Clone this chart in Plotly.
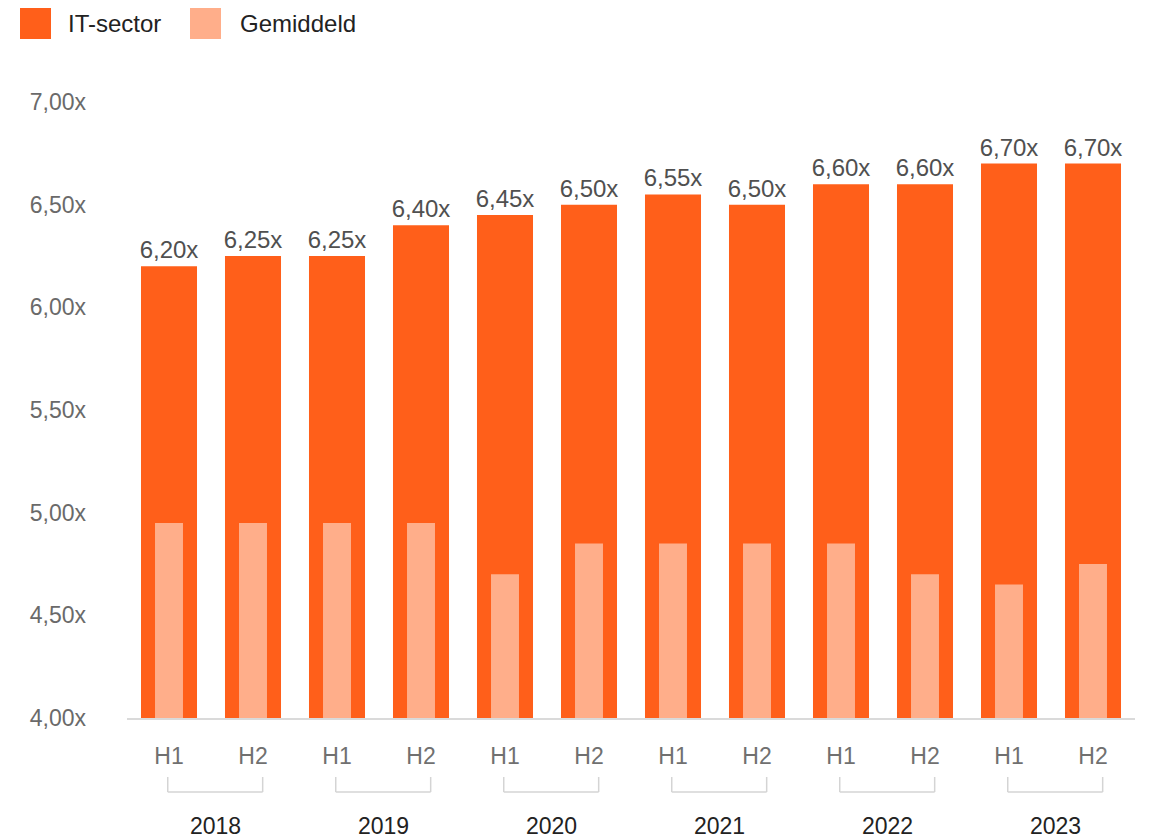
import plotly.graph_objects as go

halves = ["H1", "H2"] * 6
years = ["2018", "2019", "2020", "2021", "2022", "2023"]
it_sector = [6.20, 6.25, 6.25, 6.40, 6.45, 6.50, 6.55, 6.50, 6.60, 6.60, 6.70, 6.70]
gemiddeld = [4.95, 4.95, 4.95, 4.95, 4.70, 4.85, 4.85, 4.85, 4.85, 4.70, 4.65, 4.75]
y_ticks = [4.0, 4.5, 5.0, 5.5, 6.0, 6.5, 7.0]
y_tick_text = [f"{v:.2f}".replace(".", ",") + "x" for v in y_ticks]

C_IT = "#FF5F1A"
C_GEM = "#FFAE8A"
FONT = "Liberation Sans"

x_idx = list(range(len(halves)))

fig = go.Figure()
fig.add_trace(go.Bar(
    x=x_idx, y=it_sector, width=0.667, marker=dict(color=C_IT, line=dict(width=0)),
    name="IT-sector", texttemplate="%{y:.2f}x", textposition="outside",
    textfont=dict(family=FONT, size=24, color="#505050"), constraintext="none",
    cliponaxis=False, showlegend=False,
))
fig.add_trace(go.Bar(
    x=x_idx, y=gemiddeld, width=0.333, marker=dict(color=C_GEM, line=dict(width=0)),
    name="Gemiddeld", showlegend=False,
))

# page body margin offset
OFF = 8
W, H = 1150 - OFF, 839 - OFF
# plot area geometry (reference pixels)
L, R, T, B = 127, 1135, 102, 718
ph = B - T
pw = R - L

def py(p):
    return (B - p) / ph

def px(p):
    return (p - L) / pw

shapes = []
annotations = []
for k, yr in enumerate(years):
    c = 2 * k + 0.5
    x0, x1 = c - 0.565 + 0.05, c + 0.565 + 0.05
    line = dict(color="#D4D4D4", width=1.5)
    shapes.append(dict(type="line", xref="x", yref="paper", x0=x0, x1=x0, y0=py(777), y1=py(792), line=line))
    shapes.append(dict(type="line", xref="x", yref="paper", x0=x1, x1=x1, y0=py(777), y1=py(792), line=line))
    shapes.append(dict(type="line", xref="x", yref="paper", x0=x0, x1=x1, y0=py(792), y1=py(792), line=line))
    annotations.append(dict(text=yr, x=c + 0.05, xref="x", y=py(826), yref="paper", showarrow=False,
                            xanchor="center", yanchor="middle",
                            font=dict(family=FONT, size=23, color="#222222")))

# custom legend
for (name, col, sx, tx) in [("IT-sector", C_IT, 20, 66), ("Gemiddeld", C_GEM, 190, 238)]:
    shapes.append(dict(type="rect", xref="paper", yref="paper", x0=px(sx), x1=px(sx + 31),
                       y0=py(39), y1=py(8), fillcolor=col, line=dict(width=0)))
    annotations.append(dict(text=name, x=px(tx), xref="paper", y=py(24), yref="paper", showarrow=False,
                            xanchor="left", yanchor="middle",
                            font=dict(family=FONT, size=24, color="#222222")))

fig.update_layout(
    width=W, height=H,
    margin=dict(l=L - OFF, r=1150 - R, t=T - OFF, b=839 - B, pad=0),
    plot_bgcolor="white", paper_bgcolor="white",
    barmode="overlay", separators=",.",
    font=dict(family=FONT),
    shapes=shapes, annotations=annotations,
    xaxis=dict(
        tickmode="array", tickvals=x_idx, ticktext=halves, range=[-0.5, len(halves) - 0.5],
        showgrid=False, zeroline=False, showline=True, linecolor="#DADADA", linewidth=2,
        ticks="", tickfont=dict(family=FONT, size=23, color="#707070"), ticklabelstandoff=16,
    ),
    yaxis=dict(
        range=[4, 7], tickmode="array", tickvals=y_ticks, ticktext=y_tick_text,
        showgrid=False, zeroline=False, showline=False, ticks="",
        tickfont=dict(family=FONT, size=23, color="#6A6A6A"), ticklabelstandoff=40,
    ),
)

fig.write_html("out.html")
